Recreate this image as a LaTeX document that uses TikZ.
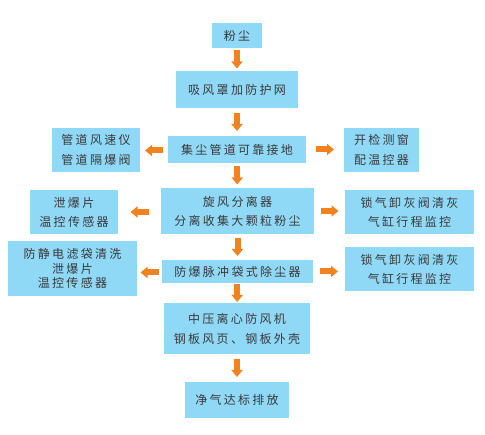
\documentclass[tikz,border=0pt]{standalone}
\usepackage{fontspec}
\setmainfont{Noto Sans CJK SC}[LetterSpace=19]
\usetikzlibrary{calc,arrows.meta}
\definecolor{boxblue}{HTML}{8FD8F6}
\definecolor{arrorange}{HTML}{F08220}
\definecolor{txtgray}{HTML}{3A3A3A}
\tikzset{
  box/.style={fill=boxblue, draw=none, text=txtgray, align=center, inner sep=0pt,
    font=\fontsize{12}{19}\selectfont},
  fat/.style={draw=arrorange, line width=6pt, -{Triangle[width=11pt,length=7pt]}}
}
\begin{document}
\begin{tikzpicture}[x=1pt,y=-1pt]
\useasboundingbox (0,0) rectangle (485,435);
% main column
\node[box, minimum width=50pt,  minimum height=25pt] (A) at (237,35.5) {粉尘};
\node[box, minimum width=122pt, minimum height=37pt] (B) at (237,89.5) {吸风罩加防护网};
\node[box, minimum width=138pt, minimum height=27pt] (C) at (237,149.5) {集尘管道可靠接地};
\node[box, minimum width=153pt, minimum height=46pt] (D) at (237.5,211) {旋风分离器\\分离收集大颗粒粉尘};
\node[box, minimum width=151pt, minimum height=23pt] (E) at (237.5,271.5) {防爆脉冲袋式除尘器};
\node[box, minimum width=146pt, minimum height=51pt, font=\fontsize{12}{20}\selectfont] (F) at (237,328.5) {中压离心防风机\\钢板风页、钢板外壳};
\node[box, minimum width=104pt, minimum height=36pt] (G) at (237,400) {净气达标排放};
% side boxes
\node[box, minimum width=88pt,  minimum height=44pt, font=\fontsize{12}{20}\selectfont] (CL) at (96,150) {管道风速仪\\管道隔爆阀};
\node[box, minimum width=75pt,  minimum height=44pt, font=\fontsize{12}{20}\selectfont] (CR) at (381.5,150) {开检测窗\\配温控器};
\node[box, minimum width=88pt,  minimum height=44pt] (DL) at (74,212) {泄爆片\\温控传感器};
\node[box, minimum width=129pt, minimum height=44pt] (DR) at (409.5,212) {锁气卸灰阀清灰\\气缸行程监控};
\node[box, minimum width=129pt, minimum height=55pt, font=\fontsize{12}{14.5}\selectfont] (EL) at (72.5,268.5) {防静电滤袋清洗\\泄爆片\\温控传感器};
\node[box, minimum width=129pt, minimum height=44pt] (ER) at (409.5,269) {锁气卸灰阀清灰\\气缸行程监控};
% arrow midpoints
\coordinate (m1) at ($(A.south)!.5!(B.north)$);
\coordinate (m2) at ($(B.south)!.5!(C.north)$);
\coordinate (m3) at ($(C.south)!.5!(D.north)$);
\coordinate (m4) at ($(D.south)!.5!(E.north)$);
\coordinate (m5) at ($(E.south)!.5!(F.north)$);
\coordinate (m6) at ($(F.south)!.5!(G.north)$);
\coordinate (l1) at ($(C.west)!.5!(CL.east |- C.west)$);
\coordinate (r1) at ($(C.east)!.5!(CR.west |- C.east)$);
\coordinate (l2) at ($(D.west)!.5!(DL.east |- D.west)$);
\coordinate (r2) at ($(D.east)!.5!(DR.west |- D.east)$);
\coordinate (l3) at ($(E.west)!.5!(EL.east |- E.west)$);
\coordinate (r3) at ($(E.east)!.5!(ER.west |- E.east)$);
\foreach \m in {m1,m2,m3,m4,m5,m6}
  \draw[fat] ($(\m)+(0,-9)$) -- ($(\m)+(0,9)$);
\foreach \m in {l1,l2,l3}
  \draw[fat] ($(\m)+(9,1)$) -- ($(\m)+(-9,1)$);
\foreach \m in {r1,r2,r3}
  \draw[fat] ($(\m)+(-9,0)$) -- ($(\m)+(9,0)$);
\end{tikzpicture}
\end{document}
